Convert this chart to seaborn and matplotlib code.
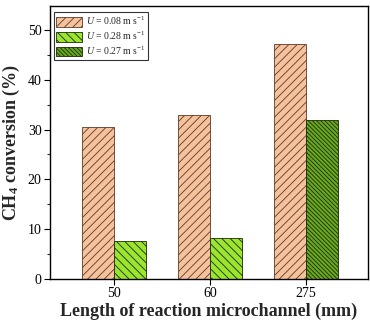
import matplotlib
matplotlib.use("Agg")
import matplotlib.pyplot as plt
import seaborn as sns
import pandas as pd
from matplotlib.patches import Patch
from matplotlib.ticker import MultipleLocator

categories = ["50", "60", "275"]
first_series = [30.6, 33.0, 47.2]          # U = 0.08 m s-1
second_series = [7.7, 8.2, 31.9]           # U = 0.28 (50, 60) / 0.27 (275)
second_labels = ["0.28", "0.28", "0.27"]
legend_labels = [r"$U$ = 0.08 m s$^{-1}$", r"$U$ = 0.28 m s$^{-1}$", r"$U$ = 0.27 m s$^{-1}$"]

sns.set_theme(style="ticks")
plt.rcParams["font.family"] = ["Liberation Serif", "DejaVu Serif"]
plt.rcParams["mathtext.fontset"] = "custom"
plt.rcParams["mathtext.rm"] = "Liberation Serif"
plt.rcParams["mathtext.it"] = "Liberation Serif:italic"
plt.rcParams["mathtext.bf"] = "Liberation Serif:bold"
plt.rcParams["hatch.linewidth"] = 0.6

rows = []
for c, a, b in zip(categories, first_series, second_series):
    rows.append({"length": c, "slot": "a", "value": a})
    rows.append({"length": c, "slot": "b", "value": b})
df = pd.DataFrame(rows)

fig = plt.figure(figsize=(3.7, 3.27), dpi=100)
ax = fig.add_axes([50/370, 48/327, 318/370, 273/327])

sns.barplot(data=df, x="length", y="value", hue="slot", order=categories,
            hue_order=["a", "b"], width=0.667, gap=0, ax=ax, legend=False,
            errorbar=None)

orange = "#F6C29C"
lgreen = "#9BE52F"
dgreen = "#6AAA1E"
styles = {
    "0.08": dict(facecolor=orange, edgecolor="#5a3a2a", hatch="////"),
    "0.28": dict(facecolor=lgreen, edgecolor="#1a2a0a", hatch="\\\\\\\\"),
    "0.27": dict(facecolor=dgreen, edgecolor="#1a2a0a", hatch="\\\\\\\\\\\\\\\\"),
}
bars = [p for p in ax.patches if p.get_height() > 0]
bars = sorted(bars, key=lambda p: p.get_x())
keys = []
for i in range(len(categories)):
    keys += ["0.08", second_labels[i]]
for p, k in zip(bars, keys):
    st = styles[k]
    p.set_facecolor(st["facecolor"])
    p.set_edgecolor(st["edgecolor"])
    p.set_hatch(st["hatch"])
    p.set_linewidth(0.6)

ax.set_xlim(-0.667, 2.646)
ax.set_ylim(0, 54.8)
ax.yaxis.set_major_locator(MultipleLocator(10))
ax.yaxis.set_minor_locator(MultipleLocator(5))
ax.tick_params(axis="both", which="major", direction="out", length=4, width=0.8,
               labelsize=10, colors="black", pad=2)
ax.tick_params(axis="y", which="minor", direction="out", length=2, width=0.8)
for s in ax.spines.values():
    s.set_visible(True)
    s.set_color("black")
    s.set_linewidth(1.0)

ax.set_xlabel("Length of reaction microchannel (mm)", fontsize=13, fontweight="bold", labelpad=2)
ax.set_ylabel(r"CH$_\mathbf{4}$ conversion (%)", fontsize=13, fontweight="bold", labelpad=4)

handles = [Patch(**styles[k], linewidth=0.6) for k in ["0.08", "0.28", "0.27"]]
leg = ax.legend(handles, legend_labels, loc="upper left", fontsize=7, frameon=True,
                fancybox=False, edgecolor="black", handlelength=2.6, handleheight=1.1,
                borderpad=0.3, labelspacing=0.25, handletextpad=0.4,
                bbox_to_anchor=(0.005, 0.985), borderaxespad=0.2)
leg.get_frame().set_linewidth(0.8)

fig.savefig("out.png", dpi=100)
